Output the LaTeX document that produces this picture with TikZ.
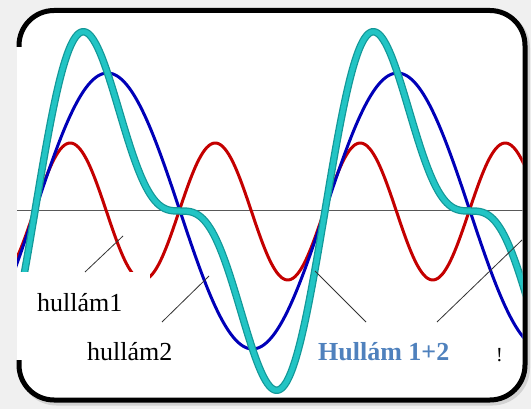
\documentclass[tikz,border=0pt]{standalone}
\usepackage{fontspec}
\setmainfont{Liberation Serif}
\begin{document}
\begin{tikzpicture}[x=1pt,y=-1pt]
\definecolor{bgc}{HTML}{F0F0F0}
\definecolor{wblue}{HTML}{0000B8}
\definecolor{wred}{HTML}{C40000}
\definecolor{wcyan}{HTML}{22C4C4}
\definecolor{wcyanedge}{HTML}{139898}
\definecolor{labblue}{HTML}{4F81BD}
\tikzset{
  wave/.style={line width=3pt, line join=round},
  sumwave/.style={line width=7.5pt, color=wcyanedge, line join=round, line cap=round},
  sumwavein/.style={line width=5pt, color=wcyan, line join=round, line cap=round},
  leader/.style={black!80, line width=0.8pt},
  lab/.style={font=\fontsize{26}{30}\selectfont, inner sep=0pt, anchor=base west},
  framebox/.style={line width=5pt, rounded corners=35pt}
}
\useasboundingbox (0,0) rectangle (531,409);
\fill[bgc] (0,0) rectangle (531,409);
% shadow
\draw[framebox, gray!35] (21.5,13) rectangle (527.5,403);
% frame
\draw[framebox, fill=white] (19,10.5) rectangle (525,400);
\fill[bgc] (13,47) rectangle (17,360);
\fill[white] (17,47) rectangle (22,360);
% waves
\begin{scope}
\clip (17,13) rectangle (522.5,397.5);
\draw[black!65, line width=1pt] (17,211) -- (522.5,211);
\draw[wave, wred] plot[domain=10:530, samples=260, smooth] (\x, {211.5-68.5*sin(2.482759*(\x-179))});
\draw[wave, wblue] plot[domain=10:530, samples=260, smooth] (\x, {211+138*sin(1.241379*(\x-180))});
\draw[sumwave] plot[domain=10:530, samples=300, smooth] (\x, {211+138*sin(1.241379*(\x-180))-69*sin(2.482759*(\x-180))});
\draw[sumwavein] plot[domain=10:530, samples=300, smooth] (\x, {211+138*sin(1.241379*(\x-180))-69*sin(2.482759*(\x-180))});
\end{scope}
% masks behind the labels
\fill[white] (17,272) rectangle (150,322);
\fill[white] (17,322) rectangle (178,356);
% leader lines
\coordinate (l1a) at (85,272);  \coordinate (l1b) at (123,236);
\coordinate (l2a) at (162,322); \coordinate (l2b) at (209,276);
\coordinate (l3a) at (315,271); \coordinate (l3b) at (366,322);
\coordinate (l4a) at (437,322); \coordinate (l4b) at (522,240);
\draw[leader] (l1a) -- (l1b);
\draw[leader] (l2a) -- (l2b);
\draw[leader] (l3a) -- (l3b);
\draw[leader] (l4a) -- (l4b);
% labels
\node[lab] (h1) at (37,312) {hullám1};
\node[lab] (h2) at (87,360) {hullám2};
\node[lab, text=labblue, font=\fontsize{26}{30}\selectfont\bfseries] (h12) at (318,360) {Hullám 1+2};
\node[lab, font=\fontsize{20}{24}\selectfont] (ex) at (496,362) {!};
\end{tikzpicture}
\end{document}
